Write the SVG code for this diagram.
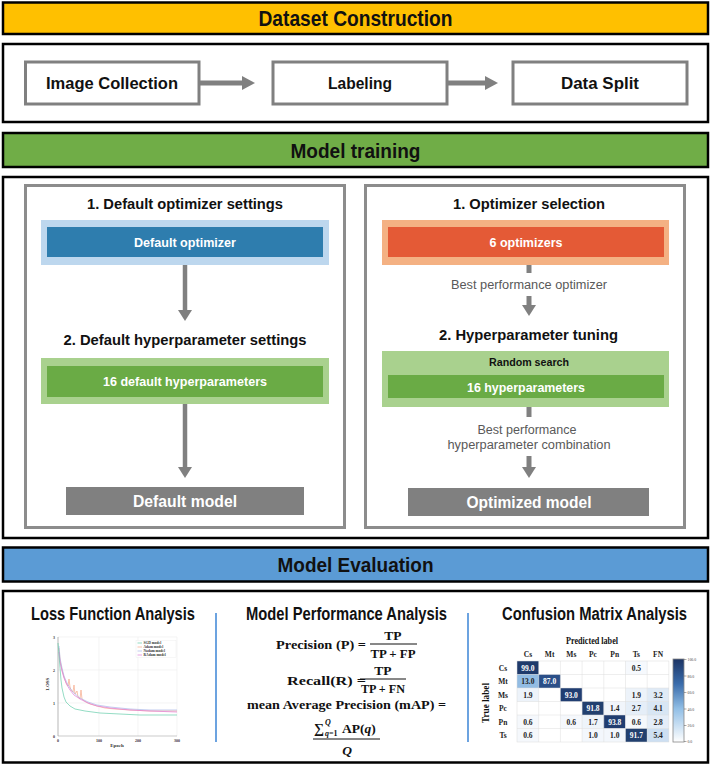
<svg xmlns="http://www.w3.org/2000/svg" width="711" height="765" viewBox="0 0 711 765">
<defs>
<style>
.ban{stroke:#000;stroke-width:2.5}
.outer{fill:#fff;stroke:#000;stroke-width:2.5}
.gbox{fill:#fff;stroke:#808080;stroke-width:3}
.ibox{fill:#fff;stroke:#8c8c8c;stroke-width:3}
.bt{font-family:"Liberation Sans",Arial,sans-serif;font-weight:bold;text-anchor:middle}
.nt{font-family:"Liberation Sans Narrow","Arial Narrow","Liberation Sans",sans-serif;font-weight:bold;text-anchor:middle;fill:#111}
.rt{font-family:"Liberation Sans",Arial,sans-serif;text-anchor:middle;fill:#595959}
.st{font-family:"Liberation Serif","Times New Roman",serif;font-weight:bold;text-anchor:middle;fill:#111}
.conn{stroke:#808080;fill:none}
.sep{stroke:#3b84d6;stroke-width:1.5}
.grid{stroke:#ececec;stroke-width:0.6}
.cell{font-family:"Liberation Serif","Times New Roman",serif;font-weight:bold;font-size:7.5px;text-anchor:middle;fill:#222}
.cw{fill:#fff}
</style>
<marker id="ah" markerUnits="userSpaceOnUse" markerWidth="13" markerHeight="14" refX="0" refY="7" orient="auto" viewBox="0 0 13 14"><path d="M0,0L13,7L0,14z" fill="#808080"/></marker>
<marker id="av" markerUnits="userSpaceOnUse" markerWidth="11" markerHeight="14" refX="0" refY="7" orient="auto" viewBox="0 0 11 14"><path d="M0,0L11,7L0,14z" fill="#808080"/></marker>
<linearGradient id="cb" x1="0" y1="0" x2="0" y2="1">
<stop offset="0" stop-color="#1c3464"/>
<stop offset="0.3" stop-color="#3a6cab"/>
<stop offset="0.6" stop-color="#92bfe6"/>
<stop offset="1" stop-color="#ffffff"/>
</linearGradient>
</defs>
<rect width="711" height="765" fill="#fff"/>

<!-- Section 1 -->
<g id="banner-dataset">
<rect class="ban" x="3" y="2.5" width="705" height="31.5" fill="#ffc000"/>
<text class="nt" x="355.5" y="25.5" font-size="22" textLength="194" lengthAdjust="spacingAndGlyphs">Dataset Construction</text>
</g>
<rect class="outer" x="3" y="44" width="705" height="78"/>
<g id="node-image-collection">
<rect class="gbox" x="25.5" y="62" width="173.5" height="42"/>
<text class="bt" x="112" y="89" font-size="17" textLength="132" lengthAdjust="spacingAndGlyphs" fill="#111">Image Collection</text>
</g>
<g id="node-labeling">
<rect class="gbox" x="273" y="62" width="174" height="42"/>
<text class="bt" x="360" y="89" font-size="17" textLength="64" lengthAdjust="spacingAndGlyphs" fill="#111">Labeling</text>
</g>
<g id="node-data-split">
<rect class="gbox" x="513" y="62" width="174" height="42"/>
<text class="bt" x="600" y="89" font-size="17" textLength="78" lengthAdjust="spacingAndGlyphs" fill="#111">Data Split</text>
</g>

<!-- Section 2 -->
<g id="banner-training">
<rect class="ban" x="3" y="133" width="705" height="34" fill="#70ad47"/>
<text class="bt" x="355.5" y="157.5" font-size="21" textLength="130" lengthAdjust="spacingAndGlyphs" fill="#111">Model training</text>
</g>
<rect class="outer" x="3" y="177" width="705" height="361"/>
<g id="panel-default">
<rect class="ibox" x="25.5" y="185.5" width="319" height="342"/>
<text class="bt" x="185" y="208.5" font-size="15" textLength="196" lengthAdjust="spacingAndGlyphs" fill="#111">1. Default optimizer settings</text>
<text class="bt" x="185" y="344.5" font-size="15" textLength="243" lengthAdjust="spacingAndGlyphs" fill="#111">2. Default hyperparameter settings</text>
</g>
<g id="node-default-optimizer">
<rect x="41" y="220" width="288" height="45" fill="#bdd7ee"/>
<rect x="47" y="227" width="276" height="30" fill="#2e7dae"/>
<text class="bt" x="185" y="247" font-size="13" textLength="102" lengthAdjust="spacingAndGlyphs" fill="#fff">Default optimizer</text>
</g>
<g id="node-default-hyper">
<rect x="41" y="358" width="288" height="46" fill="#a9d18e"/>
<rect x="47" y="366" width="276" height="31" fill="#6aab45"/>
<text class="bt" x="185" y="386" font-size="13" textLength="164" lengthAdjust="spacingAndGlyphs" fill="#fff">16 default hyperparameters</text>
</g>
<g id="node-default-model">
<rect x="66" y="487" width="238" height="28" fill="#808080"/>
<text class="bt" x="185" y="507" font-size="17" textLength="104" lengthAdjust="spacingAndGlyphs" fill="#fff">Default model</text>
</g>

<g id="panel-optimized">
<rect class="ibox" x="365.5" y="185.5" width="319" height="342"/>
<text class="bt" x="529" y="208.5" font-size="15" textLength="152" lengthAdjust="spacingAndGlyphs" fill="#111">1. Optimizer selection</text>
<text class="bt" x="528.5" y="339.5" font-size="15" textLength="179" lengthAdjust="spacingAndGlyphs" fill="#111">2. Hyperparameter tuning</text>
</g>
<g id="node-optimizers">
<rect x="382" y="220" width="287" height="45" fill="#f4b183"/>
<rect x="388" y="227" width="276" height="30" fill="#e45a36"/>
<text class="bt" x="526" y="247" font-size="13" textLength="73" lengthAdjust="spacingAndGlyphs" fill="#fff">6 optimizers</text>
</g>
<g id="node-random-search">
<rect x="382" y="351" width="287" height="56" fill="#a9d18e"/>
<text class="bt" x="529" y="366" font-size="11" textLength="80" lengthAdjust="spacingAndGlyphs" fill="#111">Random search</text>
<rect x="388" y="375" width="276" height="23" fill="#6aab45"/>
<text class="bt" x="526" y="391.5" font-size="13" textLength="118" lengthAdjust="spacingAndGlyphs" fill="#fff">16 hyperparameters</text>
</g>
<g id="node-optimized-model">
<rect x="408" y="488" width="241" height="28" fill="#808080"/>
<text class="bt" x="529" y="508" font-size="17" textLength="125" lengthAdjust="spacingAndGlyphs" fill="#fff">Optimized model</text>
</g>

<g id="connectors">
<line class="conn" x1="199" y1="83" x2="242" y2="83" stroke-width="5" marker-end="url(#ah)"/>
<line class="conn" x1="447" y1="83" x2="485" y2="83" stroke-width="5" marker-end="url(#ah)"/>
<line class="conn" x1="185" y1="265" x2="185" y2="310" stroke-width="4.5" marker-end="url(#av)"/>
<line class="conn" x1="185" y1="404" x2="185" y2="467" stroke-width="4.5" marker-end="url(#av)"/>
<line class="conn" x1="529" y1="265" x2="529" y2="273" stroke-width="5"/>
<text class="rt" x="529" y="288.5" font-size="12" textLength="156" lengthAdjust="spacingAndGlyphs">Best performance optimizer</text>
<line class="conn" x1="529" y1="296" x2="529" y2="305" stroke-width="5" marker-end="url(#av)"/>
<line class="conn" x1="529" y1="407" x2="529" y2="417" stroke-width="5"/>
<text class="rt" x="527" y="433.5" font-size="12" textLength="99" lengthAdjust="spacingAndGlyphs">Best performance</text>
<text class="rt" x="529" y="448.5" font-size="12" textLength="163" lengthAdjust="spacingAndGlyphs">hyperparameter combination</text>
<line class="conn" x1="529" y1="456" x2="529" y2="467" stroke-width="5" marker-end="url(#av)"/>
</g>

<!-- Section 3 -->
<g id="banner-evaluation">
<rect class="ban" x="3" y="547.5" width="705" height="34" fill="#5b9bd5"/>
<text class="bt" x="355.5" y="572" font-size="21" textLength="156" lengthAdjust="spacingAndGlyphs" fill="#111">Model Evaluation</text>
</g>
<rect class="outer" x="3" y="591" width="705" height="171.5"/>
<line class="sep" x1="216" y1="613" x2="216" y2="742"/>
<line class="sep" x1="468" y1="613" x2="468" y2="742"/>

<g id="loss-analysis">
<text class="nt" x="113" y="619.5" font-size="18" textLength="164" lengthAdjust="spacingAndGlyphs">Loss Function Analysis</text>
<line class="grid" x1="99" y1="637" x2="99" y2="736"/>
<line class="grid" x1="138" y1="637" x2="138" y2="736"/>
<line class="grid" x1="177" y1="637" x2="177" y2="736"/>
<line class="grid" x1="58" y1="637" x2="177" y2="637"/>
<line class="grid" x1="58" y1="670" x2="177" y2="670"/>
<line class="grid" x1="58" y1="703" x2="177" y2="703"/>
<line x1="58" y1="736" x2="177" y2="736" stroke="#aaa" stroke-width="0.6"/>
<line x1="58" y1="637" x2="58" y2="736" stroke="#888" stroke-width="0.6"/>
<g font-family="Liberation Serif,serif" font-weight="bold" font-size="4" fill="#333" text-anchor="middle">
<text x="58" y="742">0</text><text x="99" y="742">100</text><text x="138" y="742">200</text><text x="177" y="742">300</text>
<text x="55" y="638.5" text-anchor="end">3</text><text x="55" y="671.5" text-anchor="end">2</text><text x="55" y="704.5" text-anchor="end">1</text><text x="55" y="737.5" text-anchor="end">0</text>
<text x="117" y="747" font-size="5">Epoch</text>
<text x="0" y="0" font-size="5" transform="translate(49,684) rotate(-90)">LOSS</text>
</g>
<polyline fill="none" stroke="#f7a98a" stroke-width="0.7" points="59,648 60,660 62,670 64,677 66,683 68,686 69,679 70,687 71,690 73,692 74,685 75,694 77,691 78,697 80,699 81,690 82,699 83,700 86,702 90,704 97,706 105,708 115,709 130,710 150,711 177,711"/>
<polyline fill="none" stroke="#aab8e8" stroke-width="0.7" points="59,646 60,658 62,668 64,676 67,683 70,688 74,693 80,698 88,702 97,705 110,707 130,709 150,710 177,710"/>
<polyline fill="none" stroke="#e07ad8" stroke-width="0.7" points="59,652 60,662 62,671 64,678 67,685 70,690 74,695 80,699 88,703 97,706 110,708 130,710 150,711 177,712"/>
<polyline fill="none" stroke="#66cdaa" stroke-width="0.7" points="58,643 59,655 60,668 61,680 62,688 64,697 66,702 70,706 75,709 85,711 100,713 120,714 140,715 177,715"/>
<rect x="136" y="640.5" width="40" height="17" fill="#fff" fill-opacity="0.8" stroke="#e4e4e4" stroke-width="0.3"/>
<line x1="137.5" y1="643" x2="142" y2="643" stroke="#66cdaa" stroke-width="0.7"/>
<line x1="137.5" y1="647" x2="142" y2="647" stroke="#f7a98a" stroke-width="0.7"/>
<line x1="137.5" y1="651" x2="142" y2="651" stroke="#aab8e8" stroke-width="0.7"/>
<line x1="137.5" y1="655" x2="142" y2="655" stroke="#e07ad8" stroke-width="0.7"/>
<g font-family="Liberation Serif,serif" font-weight="bold" font-size="3.6" fill="#333">
<text x="143.5" y="644.3">SGD model</text><text x="143.5" y="648.3">Adam model</text><text x="143.5" y="652.3">Nadam model</text><text x="143.5" y="656.3">RAdam model</text>
</g>
</g>

<g id="performance-analysis">
<text class="nt" x="346.5" y="619.5" font-size="18" textLength="201" lengthAdjust="spacingAndGlyphs">Model Performance Analysis</text>
<text class="st" x="366" y="648.5" font-size="13.5" fill="#111" style="text-anchor:end" textLength="90" lengthAdjust="spacingAndGlyphs">Precision (P) =</text>
<text class="st" x="393" y="639.5" font-size="13.5" fill="#111">TP</text>
<line x1="370" y1="644" x2="417" y2="644" stroke="#111" stroke-width="1"/>
<text class="st" x="393" y="657.5" font-size="13.5" fill="#111" textLength="45" lengthAdjust="spacingAndGlyphs">TP + FP</text>
<text class="st" x="366" y="684.5" font-size="13.5" fill="#111" style="text-anchor:end" textLength="79" lengthAdjust="spacingAndGlyphs">Recall(R) =</text>
<text class="st" x="383" y="674.5" font-size="13.5" fill="#111">TP</text>
<line x1="360" y1="679" x2="406" y2="679" stroke="#111" stroke-width="1"/>
<text class="st" x="383" y="692.5" font-size="13.5" fill="#111" textLength="44" lengthAdjust="spacingAndGlyphs">TP + FN</text>
<text class="st" x="346.5" y="708.5" font-size="13.5" fill="#111" textLength="199" lengthAdjust="spacingAndGlyphs">mean Average Precision (mAP) =</text>
<text class="st" x="314" y="733" font-size="14" fill="#111" style="text-anchor:start">∑</text>
<text class="st" x="325" y="725" font-size="8" fill="#111" font-style="italic" style="text-anchor:start">Q</text>
<text class="st" x="325" y="736" font-size="8" fill="#111" style="text-anchor:start"><tspan font-style="italic">q</tspan>=1</text>
<text class="st" x="342" y="732.5" font-size="13.5" fill="#111" style="text-anchor:start">AP(<tspan font-style="italic">q</tspan>)</text>
<line x1="313" y1="739" x2="380" y2="739" stroke="#111" stroke-width="1"/>
<text class="st" x="347" y="754.5" font-size="13.5" fill="#111" font-style="italic">Q</text>
</g>

<g id="confusion-analysis">
<text class="nt" x="594.5" y="619.5" font-size="18" textLength="185" lengthAdjust="spacingAndGlyphs">Confusion Matrix Analysis</text>
<text class="st" x="592" y="644" font-size="11" fill="#222" textLength="52" lengthAdjust="spacingAndGlyphs">Predicted label</text>
<text class="st" x="0" y="0" font-size="11" fill="#222" transform="translate(489,703) rotate(-90)" textLength="40" lengthAdjust="spacingAndGlyphs">True label</text>
<g class="cell">
<text x="527.9" y="657">Cs</text><text x="549.6" y="657">Mt</text><text x="571.3" y="657">Ms</text><text x="593" y="657">Pc</text><text x="614.7" y="657">Pn</text><text x="636.4" y="657">Ts</text><text x="658.1" y="657">FN</text>
<text x="503" y="670.5">Cs</text><text x="503" y="684">Mt</text><text x="503" y="697.5">Ms</text><text x="503" y="711">Pc</text><text x="503" y="724.5">Pn</text><text x="503" y="738">Ts</text>
</g>
<rect x="517" y="661" width="151.9" height="81" fill="#fff"/>
<g>
<rect x="517" y="661" width="21.7" height="13.5" fill="#1f3a6b"/>
<rect x="625.5" y="661" width="21.7" height="13.5" fill="#f6f9fd"/>
<rect x="517" y="674.5" width="21.7" height="13.5" fill="#92bce3"/>
<rect x="538.7" y="674.5" width="21.7" height="13.5" fill="#2b4f88"/>
<rect x="517" y="688" width="21.7" height="13.5" fill="#edf3fa"/>
<rect x="560.4" y="688" width="21.7" height="13.5" fill="#213e72"/>
<rect x="625.5" y="688" width="21.7" height="13.5" fill="#edf3fa"/>
<rect x="647.2" y="688" width="21.7" height="13.5" fill="#dfeaf6"/>
<rect x="582.1" y="701.5" width="21.7" height="13.5" fill="#22406f"/>
<rect x="603.8" y="701.5" width="21.7" height="13.5" fill="#f1f5fb"/>
<rect x="625.5" y="701.5" width="21.7" height="13.5" fill="#e5eef8"/>
<rect x="647.2" y="701.5" width="21.7" height="13.5" fill="#d8e6f4"/>
<rect x="517" y="715" width="21.7" height="13.5" fill="#f5f8fc"/>
<rect x="560.4" y="715" width="21.7" height="13.5" fill="#f5f8fc"/>
<rect x="582.1" y="715" width="21.7" height="13.5" fill="#eef4fa"/>
<rect x="603.8" y="715" width="21.7" height="13.5" fill="#203d70"/>
<rect x="625.5" y="715" width="21.7" height="13.5" fill="#f5f8fc"/>
<rect x="647.2" y="715" width="21.7" height="13.5" fill="#e4edf8"/>
<rect x="517" y="728.5" width="21.7" height="13.5" fill="#f5f8fc"/>
<rect x="582.1" y="728.5" width="21.7" height="13.5" fill="#f3f7fc"/>
<rect x="603.8" y="728.5" width="21.7" height="13.5" fill="#f3f7fc"/>
<rect x="625.5" y="728.5" width="21.7" height="13.5" fill="#22406f"/>
<rect x="647.2" y="728.5" width="21.7" height="13.5" fill="#cddff2"/>
</g>
<g stroke="#dcdcdc" stroke-width="0.5" fill="none">
<rect x="517" y="661" width="151.9" height="81"/>
<path d="M538.7,661V742M560.4,661V742M582.1,661V742M603.8,661V742M625.5,661V742M647.2,661V742M517,674.5H668.9M517,688H668.9M517,701.5H668.9M517,715H668.9M517,728.5H668.9"/>
</g>
<g class="cell">
<text class="cw" x="527.9" y="670.5">99.0</text><text x="636.4" y="670.5">0.5</text>
<text x="527.9" y="684">13.0</text><text class="cw" x="549.6" y="684">87.0</text>
<text x="527.9" y="697.5">1.9</text><text class="cw" x="571.3" y="697.5">93.0</text><text x="636.4" y="697.5">1.9</text><text x="658.1" y="697.5">3.2</text>
<text class="cw" x="593" y="711">91.8</text><text x="614.7" y="711">1.4</text><text x="636.4" y="711">2.7</text><text x="658.1" y="711">4.1</text>
<text x="527.9" y="724.5">0.6</text><text x="571.3" y="724.5">0.6</text><text x="593" y="724.5">1.7</text><text class="cw" x="614.7" y="724.5">93.8</text><text x="636.4" y="724.5">0.6</text><text x="658.1" y="724.5">2.8</text>
<text x="527.9" y="738">0.6</text><text x="593" y="738">1.0</text><text x="614.7" y="738">1.0</text><text class="cw" x="636.4" y="738">91.7</text><text x="658.1" y="738">5.4</text>
</g>
<rect x="673" y="659" width="11" height="83" fill="url(#cb)" stroke="#888" stroke-width="0.8"/>
<g stroke="#555" stroke-width="0.5">
<path d="M684,659.5h2.5M684,676h2.5M684,692.5h2.5M684,709h2.5M684,725.5h2.5M684,741.5h2.5"/>
</g>
<g font-family="Liberation Serif,serif" font-size="3.8" fill="#444">
<text x="687.5" y="661">100.0</text><text x="687.5" y="677.5">80.0</text><text x="687.5" y="694">60.0</text><text x="687.5" y="710.5">40.0</text><text x="687.5" y="727">20.0</text><text x="687.5" y="743">0.0</text>
</g>
</g>
</svg>
